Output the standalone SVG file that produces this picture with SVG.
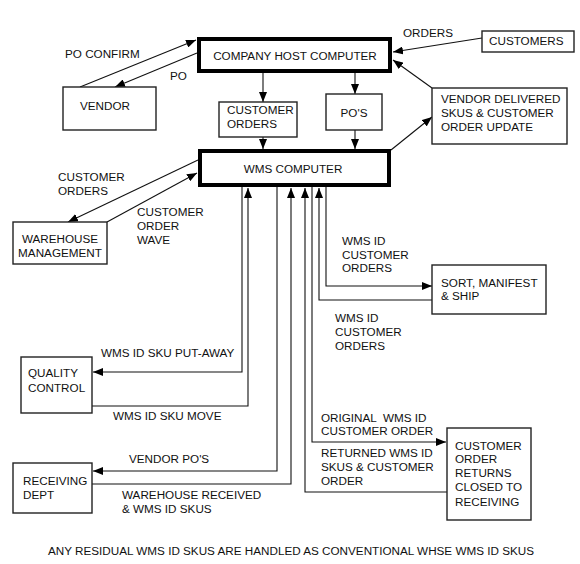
<svg xmlns="http://www.w3.org/2000/svg" width="580" height="564" viewBox="0 0 580 564">
<defs>
<marker id="ah" markerUnits="userSpaceOnUse" markerWidth="10" markerHeight="8" refX="10" refY="4" orient="auto">
<path d="M0,0 L10,4 L0,8 z" fill="#000"/>
</marker>
<style>
text{font-family:"Liberation Sans",Arial,sans-serif;font-size:11.7px;fill:#111}
.box{fill:#fff;stroke:#222;stroke-width:1.4}
.thick{fill:#fff;stroke:#000;stroke-width:4}
.c{fill:none;stroke:#111;stroke-width:1.1;marker-end:url(#ah)}
.n{fill:none;stroke:#111;stroke-width:1.1}
.m{text-anchor:middle}
</style>
</defs>
<rect width="580" height="564" fill="#fff"/>
<g id="connectors">
<path class="c" d="M80,87 L196,40"/>
<path class="c" d="M197,53 L115,87"/>
<path class="c" d="M482,38 L393,52"/>
<path class="c" d="M432,88 L393,60"/>
<path class="c" d="M391,150 L432,117"/>
<path class="c" d="M263,73 L263,102"/>
<path class="c" d="M263,137 L263,149"/>
<path class="c" d="M355,73 L355,94"/>
<path class="c" d="M355,130 L355,149"/>
<path class="c" d="M198,160 L68,222"/>
<path class="c" d="M107,222 L197,173"/>
<path class="c" d="M242,187 L242,372 L93,372"/>
<path class="c" d="M92,406 L248,406 L248,188"/>
<path class="c" d="M277,187 L277,471 L93,471"/>
<path class="c" d="M92,484 L291,484 L291,188"/>
<path class="c" d="M447,492 L305,492 L305,188"/>
<path class="c" d="M312,187 L312,442 L446,442"/>
<path class="c" d="M432,300 L319,300 L319,188"/>
<path class="c" d="M326,187 L326,286 L432,286"/>
</g>
<g id="host">
<rect class="thick" x="199" y="39" width="191" height="32"/>
<text class="m" x="295" y="60">COMPANY HOST COMPUTER</text>
</g>
<g id="vendor">
<rect class="box" x="63" y="87" width="93" height="43"/>
<text x="80" y="110">VENDOR</text>
</g>
<g id="customers">
<rect class="box" x="482" y="31" width="92" height="21"/>
<text x="489" y="45">CUSTOMERS</text>
</g>
<g id="customer-orders">
<rect class="box" x="219" y="102" width="78" height="35"/>
<text x="227" y="114">CUSTOMER</text>
<text x="227" y="128">ORDERS</text>
</g>
<g id="pos">
<rect class="box" x="326" y="94" width="56" height="36"/>
<text class="m" x="354" y="117">PO'S</text>
</g>
<g id="vendor-delivered">
<rect class="box" x="432" y="88" width="135" height="56"/>
<text x="441" y="103">VENDOR DELIVERED</text>
<text x="441" y="117">SKUS &amp; CUSTOMER</text>
<text x="441" y="131">ORDER UPDATE</text>
</g>
<g id="wms">
<rect class="thick" x="200" y="151" width="189" height="34"/>
<text class="m" x="293" y="173">WMS COMPUTER</text>
</g>
<g id="warehouse-management">
<rect class="box" x="13" y="222" width="94" height="42"/>
<text class="m" x="60" y="243">WAREHOUSE</text>
<text class="m" x="60" y="257">MANAGEMENT</text>
</g>
<g id="sort">
<rect class="box" x="432" y="265" width="114" height="49"/>
<text x="441" y="287">SORT, MANIFEST</text>
<text x="441" y="300">&amp; SHIP</text>
</g>
<g id="quality-control">
<rect class="box" x="21" y="357" width="71" height="56"/>
<text x="28" y="377">QUALITY</text>
<text x="28" y="392">CONTROL</text>
</g>
<g id="receiving">
<rect class="box" x="13" y="463" width="79" height="50"/>
<text x="23" y="485">RECEIVING</text>
<text x="23" y="499">DEPT</text>
</g>
<g id="returns">
<rect class="box" x="447" y="428" width="84" height="92"/>
<text x="455" y="450">CUSTOMER</text>
<text x="455" y="463">ORDER</text>
<text x="455" y="477">RETURNS</text>
<text x="455" y="491">CLOSED TO</text>
<text x="455" y="506">RECEIVING</text>
</g>
<g id="labels">
<text x="65" y="58">PO CONFIRM</text>
<text x="170" y="80">PO</text>
<text x="403" y="37">ORDERS</text>
<text x="58" y="181">CUSTOMER</text>
<text x="58" y="195">ORDERS</text>
<text x="137" y="216">CUSTOMER</text>
<text x="137" y="230">ORDER</text>
<text x="137" y="244">WAVE</text>
<text x="342" y="245">WMS ID</text>
<text x="342" y="259">CUSTOMER</text>
<text x="342" y="272">ORDERS</text>
<text x="335" y="322">WMS ID</text>
<text x="335" y="336">CUSTOMER</text>
<text x="335" y="350">ORDERS</text>
<text x="101" y="357">WMS ID SKU PUT-AWAY</text>
<text x="113" y="420">WMS ID SKU MOVE</text>
<text x="129" y="463">VENDOR PO'S</text>
<text x="122" y="499">WAREHOUSE RECEIVED</text>
<text x="122" y="513">&amp; WMS ID SKUS</text>
<text x="321" y="422" xml:space="preserve">ORIGINAL  WMS ID</text>
<text x="321" y="435">CUSTOMER ORDER</text>
<text x="321" y="457">RETURNED WMS ID</text>
<text x="321" y="471">SKUS &amp; CUSTOMER</text>
<text x="321" y="485">ORDER</text>
<text class="m" x="291" y="555">ANY RESIDUAL WMS ID SKUS ARE HANDLED AS CONVENTIONAL WHSE WMS ID SKUS</text>
</g>
</svg>
